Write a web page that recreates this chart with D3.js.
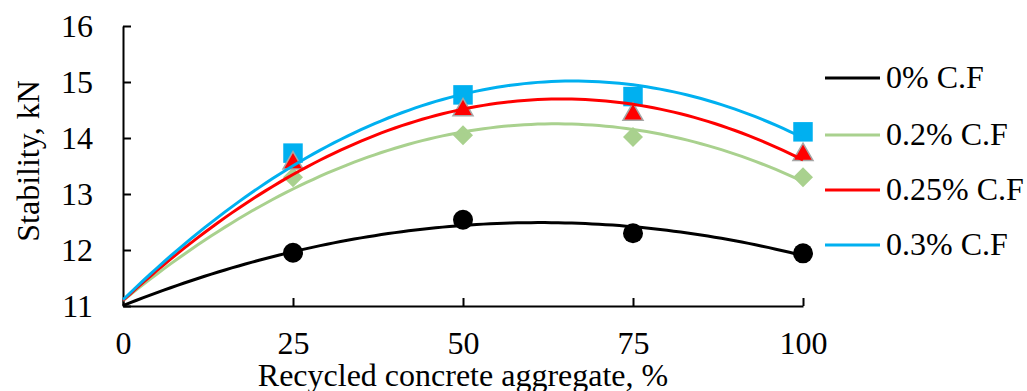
<!DOCTYPE html>
<html>
<head>
<meta charset="utf-8">
<script src="https://cdn.jsdelivr.net/npm/d3@7"></script>
<style>
  body { margin: 0; background: #fff; }
  svg { display: block; }
  .axis path, .axis line { stroke: #000; stroke-width: 2; }
</style>
</head>
<body>
<div id="chart"></div>
<script>
// data
var rcaLevels = [0, 25, 50, 75, 100]
var seriesNames = ["0% C.F", "0.2% C.F", "0.25% C.F", "0.3% C.F"]
var stabilityCF0   = [11.0, 11.95, 12.54, 12.30, 11.94]
var stabilityCF02  = [11.0, 13.30, 14.05, 14.02, 13.30]
var stabilityCF025 = [11.0, 13.55, 14.50, 14.42, 13.70]
var stabilityCF03  = [11.0, 13.73, 14.77, 14.74, 14.11]
var xTicks = [0, 25, 50, 75, 100]
var yTicks = [11, 12, 13, 14, 15, 16]

var FONT = "'Liberation Serif', 'Times New Roman', serif"
var colors = ["#000000", "#a9d18e", "#ff0000", "#00b0f0"]
var shapes = ["circle", "diamond", "triangle", "square"]

var series = [stabilityCF0, stabilityCF02, stabilityCF025, stabilityCF03].map(function(vals, i){
  return { name: seriesNames[i], color: colors[i], shape: shapes[i],
    pts: rcaLevels.map(function(x, j){ return { x: x, y: vals[j] } }) }
})

// least squares 2nd order polynomial (like the spreadsheet trendline)
function polyFit(pts){
  var s = [0,0,0,0,0], t = [0,0,0]
  pts.forEach(function(p){
    for (var k = 0; k < 5; k++) s[k] += Math.pow(p.x, k)
    for (var k = 0; k < 3; k++) t[k] += p.y * Math.pow(p.x, k)
  })
  var m = [[s[0],s[1],s[2],t[0]],[s[1],s[2],s[3],t[1]],[s[2],s[3],s[4],t[2]]]
  for (var i = 0; i < 3; i++){
    for (var r = i + 1; r < 3; r++){
      var f = m[r][i] / m[i][i]
      for (var c = i; c < 4; c++) m[r][c] -= f * m[i][c]
    }
  }
  var b = [0,0,0]
  for (var i = 2; i >= 0; i--){
    var v = m[i][3]
    for (var c = i + 1; c < 3; c++) v -= m[i][c] * b[c]
    b[i] = v / m[i][i]
  }
  return function(x){ return b[0] + b[1]*x + b[2]*x*x }
}

var W = 1027, H = 391
var margin = {top: 26, left: 123, right: 224, bottom: 85}

var svg = d3.select("#chart").append("svg").attr("width", W).attr("height", H)
svg.append("rect").attr("width", W).attr("height", H).attr("fill", "#fff")

var x = d3.scaleLinear().domain([0, 100]).range([margin.left, W - margin.right])
var y = d3.scaleLinear().domain([11, 16]).range([H - margin.bottom, margin.top])

var xAxis = svg.append("g").attr("class", "axis")
  .attr("transform", "translate(0," + y(11) + ")")
  .call(d3.axisBottom(x).tickValues(xTicks).tickFormat(d3.format("d"))
    .tickSizeInner(-8).tickSizeOuter(0).tickPadding(25))

var yAxis = svg.append("g").attr("class", "axis")
  .attr("transform", "translate(" + x(0) + ",0)")
  .call(d3.axisLeft(y).tickValues(yTicks).tickFormat(d3.format("d"))
    .tickSizeInner(-8).tickSizeOuter(0).tickPadding(30))
yAxis.selectAll("text").attr("dy", "0.34em")

svg.selectAll(".axis text")
  .style("font-family", FONT).style("font-size", "32px").attr("fill", "#000")

svg.append("text")
  .attr("x", (x(0) + x(100)) / 2).attr("y", 386)
  .attr("text-anchor", "middle")
  .style("font-family", FONT).style("font-size", "32px")
  .text("Recycled concrete aggregate, %")

svg.append("text")
  .attr("transform", "translate(39," + (y(13.5) - 5) + ") rotate(-90)")
  .attr("text-anchor", "middle")
  .style("font-family", FONT).style("font-size", "32px")
  .text("Stability, kN")

// markers
var symbolFor = {
  circle: d3.symbol().type(d3.symbolCircle).size(Math.PI * 100),
  square: d3.symbol().type(d3.symbolSquare).size(380),
  diamond: d3.symbol().type(d3.symbolSquare).size(200),
  triangle: d3.symbol().type(d3.symbolTriangle).size(175)
}
var markerOrder = [0, 3, 1, 2]
markerOrder.forEach(function(i){
  var s = series[i]
  svg.append("g").selectAll("path")
    .data(s.pts.filter(function(p){ return p.x > 0 }))
    .enter().append("path")
      .attr("transform", function(d){
        return "translate(" + x(d.x) + "," + y(d.y) + ")" + (s.shape == "diamond" ? " rotate(45)" : "")
      })
      .attr("d", symbolFor[s.shape])
      .attr("fill", s.color)
      .attr("stroke", s.shape == "triangle" ? "#a6a6a6" : "none")
      .attr("stroke-width", 1.5)
})

// trend lines
var line = d3.line().x(function(d){ return x(d.x) }).y(function(d){ return y(d.y) })
series.forEach(function(s){
  var f = polyFit(s.pts)
  var curve = d3.range(0, 100.5, 1).map(function(v){ return {x: v, y: f(v)} })
  svg.append("path").datum(curve)
    .attr("d", line)
    .attr("fill", "none")
    .attr("stroke", s.color)
    .attr("stroke-width", 3)
})

// legend
var legendY = [78, 135, 190, 245]
var lg = svg.append("g").selectAll("g").data(series).enter().append("g")
  .attr("transform", function(d, i){ return "translate(825," + legendY[i] + ")" })
lg.append("line").attr("x1", 0).attr("x2", 55)
  .attr("stroke", function(d){ return d.color }).attr("stroke-width", 3)
lg.append("text").attr("x", 61).attr("y", 10)
  .style("font-family", FONT).style("font-size", "32px")
  .text(function(d){ return d.name })
</script>
</body>
</html>
